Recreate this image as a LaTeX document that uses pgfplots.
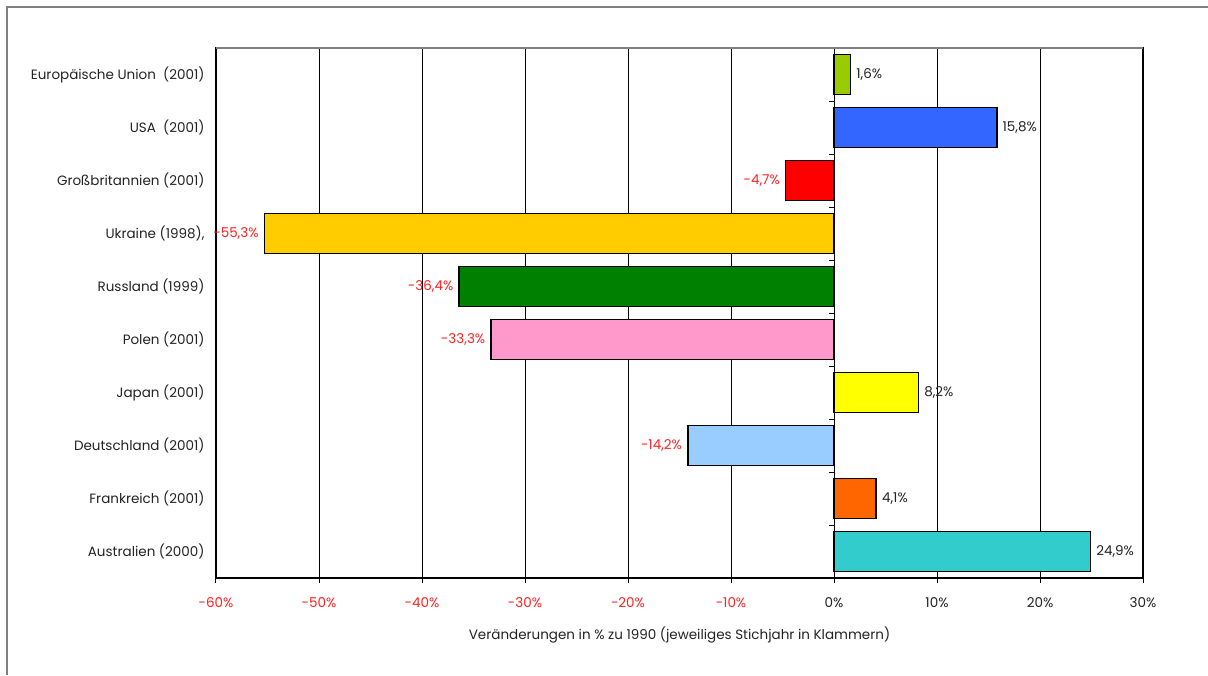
\documentclass[border=0pt]{standalone}
\usepackage{pgfplots}
\pgfplotsset{compat=1.18}
\usepackage{fontspec}
\setmainfont{Poppins}
\definecolor{cEU}{HTML}{99CC00}
\definecolor{cUS}{HTML}{3366FF}
\definecolor{cGB}{HTML}{FF0000}
\definecolor{cUA}{HTML}{FFCC00}
\definecolor{cRU}{HTML}{008000}
\definecolor{cPL}{HTML}{FF99CC}
\definecolor{cJP}{HTML}{FFFF00}
\definecolor{cDE}{HTML}{99CCFF}
\definecolor{cFR}{HTML}{FF6600}
\definecolor{cAU}{HTML}{33CCCC}
\definecolor{txt}{HTML}{222222}
\definecolor{neg}{HTML}{FF2020}
\begin{document}
\begin{tikzpicture}
\useasboundingbox (0pt,0pt) rectangle (1208pt,-675pt);
\draw[gray, line width=1.5pt] (7pt,-675pt) -- (7pt,-7pt) -- (1208pt,-7pt);
\begin{axis}[
  at={(216pt,-578pt)}, anchor=south west,
  scale only axis, width=927pt, height=530pt,
  xmin=-60, xmax=30, ymin=-0.5, ymax=9.5, y dir=reverse,
  xtick={-60,-50,...,30},
  xticklabels={\textcolor{neg}{-60\%},\textcolor{neg}{-50\%},\textcolor{neg}{-40\%},\textcolor{neg}{-30\%},\textcolor{neg}{-20\%},\textcolor{neg}{-10\%},0\%,10\%,20\%,30\%},
  ytick={0,...,9},
  yticklabels={Europäische Union\ \ (2001),USA\ \ (2001),Großbritannien (2001),{Ukraine (1998),},Russland (1999),Polen (2001),Japan (2001),Deutschland (2001),Frankreich (2001),Australien (2000)},
  ytick style={draw=none},
  xtick pos=bottom, tick align=outside, major tick length=5pt,
  x tick style={black, line width=1pt},
  xmajorgrids, grid style={black, line width=0.8pt},
  axis line style={black, line width=1.2pt},
  font=\fontsize{13.5}{15}\selectfont\color{txt},
  xlabel={Veränderungen in \% zu 1990 (jeweiliges Stichjahr in Klammern)},
  xlabel style={yshift=-12pt},
  xticklabel style={yshift=-11pt},
  yticklabel style={xshift=-3pt},
  xbar, bar width=40pt, bar shift=0pt,
  every axis plot/.append style={draw=black, line width=1.6pt},
  point meta=x,
  nodes near coords={\pgfmathprintnumber[fixed,fixed zerofill,precision=1,use comma]{\pgfplotspointmeta}\%},
  nodes near coords style={font=\fontsize{13.5}{15}\selectfont, inner sep=5pt},
  /pgf/number format/assume math mode=true,
  clip=false,
]
\addplot[fill=cEU, every node near coord/.append style={anchor=west, text=txt}] coordinates {(1.6,0)};
\addplot[fill=cUS, every node near coord/.append style={anchor=west, text=txt}] coordinates {(15.8,1)};
\addplot[fill=cGB, every node near coord/.append style={anchor=east, text=neg}] coordinates {(-4.7,2)};
\addplot[fill=cUA, every node near coord/.append style={anchor=east, text=neg}] coordinates {(-55.3,3)};
\addplot[fill=cRU, every node near coord/.append style={anchor=east, text=neg}] coordinates {(-36.4,4)};
\addplot[fill=cPL, every node near coord/.append style={anchor=east, text=neg}] coordinates {(-33.3,5)};
\addplot[fill=cJP, every node near coord/.append style={anchor=west, text=txt}] coordinates {(8.2,6)};
\addplot[fill=cDE, every node near coord/.append style={anchor=east, text=neg}] coordinates {(-14.2,7)};
\addplot[fill=cFR, every node near coord/.append style={anchor=west, text=txt}] coordinates {(4.1,8)};
\addplot[fill=cAU, every node near coord/.append style={anchor=west, text=txt}] coordinates {(24.9,9)};
\pgfplotsinvokeforeach{-0.5,0.5,1.5,2.5,3.5,4.5,5.5,6.5,7.5,8.5,9.5}{
  \draw[black, line width=1pt] (axis cs:0,#1) -- ++(-5pt,0pt);
}
\draw[gray, line width=1.2pt] (axis cs:-60,-0.5) -- (axis cs:30,-0.5);
\end{axis}
\end{tikzpicture}
\end{document}
